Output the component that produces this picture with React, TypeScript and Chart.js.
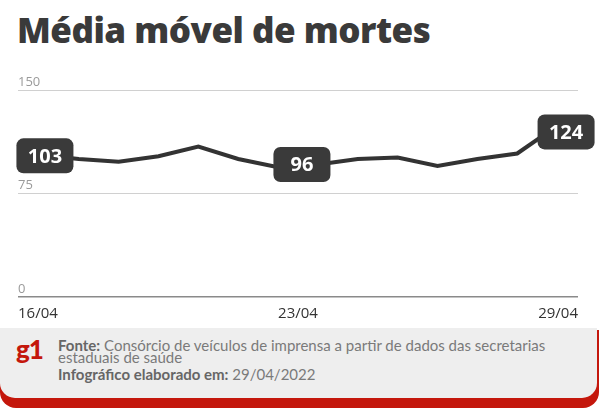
import React, { useEffect, useRef } from "react";
import { Chart, registerables } from "chart.js";

Chart.register(...registerables);

const DATES = ["16/04", "17/04", "18/04", "19/04", "20/04", "21/04", "22/04", "23/04", "24/04", "25/04", "26/04", "27/04", "28/04", "29/04"];
const VALUES = [103, 100, 98, 102, 109, 100, 94, 96, 100, 101, 95, 100, 104, 124];
const X_TICK_INDEX = [0, 7, 13];
const LABEL_INDEX = [0, 7, 13];
const Y_TICKS = [0, 75, 150];

const TITLE = "Média móvel de mortes";
const SOURCE_BOLD = "Fonte:";
const SOURCE_L1 = " Consórcio de veículos de imprensa a partir de dados das secretarias";
const SOURCE_L2 = "estaduais de saúde";
const MADE_BOLD = "Infográfico elaborado em:";
const MADE_DATE = " 29/04/2022";

// style offsets for the value boxes (relative to their points)
const BOX_SHIFT = [
  { dx: 6, dy: 1 },
  { dx: -16, dy: 0 },
  { dx: 9, dy: 6 },
];

const valueBoxes = {
  id: "valueBoxes",
  afterDatasetsDraw(chart: any) {
    const meta = chart.getDatasetMeta(0);
    const ctx = chart.ctx;
    ctx.save();
    LABEL_INDEX.forEach((idx, k) => {
      const pt = meta.data[idx];
      if (!pt) return;
      const w = 57, h = 35, r = 7;
      const cx = pt.x + BOX_SHIFT[k].dx;
      const cy = pt.y + BOX_SHIFT[k].dy;
      ctx.fillStyle = "#3a3a3a";
      ctx.beginPath();
      ctx.roundRect(cx - w / 2, cy - h / 2, w, h, r);
      ctx.fill();
      ctx.fillStyle = "#ffffff";
      ctx.font = "700 20px 'Open Sans'";
      ctx.textAlign = "center";
      ctx.textBaseline = "middle";
      ctx.fillText(String(VALUES[idx]), cx, cy + 1);
    });
    ctx.restore();
  },
};

function LineChart() {
  const ref = useRef<HTMLCanvasElement>(null);
  useEffect(() => {
    if (!ref.current) return;
    const xMin = -0.525;
    const xMax = DATES.length - 1 + 0.525;
    const tickPos = [xMin, (xMin + xMax) / 2, xMax];
    const chart = new Chart(ref.current, {
      type: "line",
      data: {
        datasets: [
          {
            data: VALUES.map((v, i) => ({ x: i, y: v })),
            borderColor: "#333333",
            borderWidth: 4,
            pointRadius: 0,
            tension: 0,
            fill: false,
          },
        ],
      },
      options: {
        animation: false,
        responsive: false,
        events: [],
        layout: { padding: { left: 18, right: 22, top: 30, bottom: 3 } },
        plugins: { legend: { display: false }, tooltip: { enabled: false } },
        scales: {
          x: {
            type: "linear",
            min: xMin,
            max: xMax,
            grid: { display: false, drawTicks: false },
            border: { display: false },
            afterBuildTicks(axis: any) {
              axis.ticks = tickPos.map((v) => ({ value: v }));
            },
            ticks: {
              align: "inner",
              autoSkip: false,
              maxRotation: 0,
              padding: 8,
              color: "#333333",
              font: { family: "'Open Sans'", size: 15 },
              callback: (_v: any, i: number) => DATES[X_TICK_INDEX[i]],
            },
          },
          y: {
            min: 0,
            max: 150,
            afterBuildTicks(axis: any) {
              axis.ticks = Y_TICKS.map((v) => ({ value: v }));
            },
            grid: {
              drawTicks: false,
              color: (c: any) => (c.tick && c.tick.value === 0 ? "#8a8a8a" : "#d0d0d0"),
              lineWidth: (c: any) => (c.tick && c.tick.value === 0 ? 1.5 : 1),
            },
            border: { display: false },
            ticks: {
              mirror: true,
              padding: 0,
              labelOffset: -8,
              color: "#9a9a9a",
              font: { family: "'Open Sans'", size: 13 },
            },
          },
        },
      },
      plugins: [valueBoxes],
    } as any);
    return () => chart.destroy();
  }, []);
  return <canvas ref={ref} width={600} height={274} style={{ position: "absolute", left: 0, top: 60 }} />;
}

export default function App() {
  useEffect(() => {
    document.body.style.margin = "0";
  }, []);
  const txt: React.CSSProperties = {
    position: "absolute",
    left: 58,
    fontFamily: "Lato, sans-serif",
    fontSize: 15,
    lineHeight: "15px",
    color: "#7a7a7a",
    whiteSpace: "nowrap",
  };
  return (
    <div style={{ position: "relative", width: 600, height: 415, background: "#fff", overflow: "hidden" }}>
      <div
        style={{
          position: "absolute",
          left: 17,
          top: 6,
          fontFamily: "'Open Sans', sans-serif",
          fontWeight: 800,
          fontSize: 35,
          lineHeight: "48px",
          letterSpacing: -0.5,
          color: "#3a3a3a",
          whiteSpace: "nowrap",
        }}
      >
        {TITLE}
      </div>
      <LineChart />
      <div style={{ position: "absolute", left: 0, top: 330, width: 599, height: 78, background: "#c4170c", borderRadius: "0 0 16px 16px" }} />
      <div style={{ position: "absolute", left: 0, top: 328, width: 597, height: 70, background: "#eeeeee", borderRadius: "0 0 15px 15px" }} />
      <div
        style={{
          position: "absolute",
          left: 16,
          top: 336,
          fontFamily: "Lato, sans-serif",
          fontWeight: 900,
          fontSize: 26,
          lineHeight: "26px",
          letterSpacing: -1,
          color: "#c4170c",
        }}
      >
        g1
      </div>
      <div style={{ ...txt, top: 337.7 }}>
        <b style={{ color: "#666" }}>{SOURCE_BOLD}</b>
        {SOURCE_L1}
      </div>
      <div style={{ ...txt, top: 349.7 }}>{SOURCE_L2}</div>
      <div style={{ ...txt, top: 366.7 }}>
        <b style={{ color: "#666" }}>{MADE_BOLD}</b>
        {MADE_DATE}
      </div>
    </div>
  );
}
